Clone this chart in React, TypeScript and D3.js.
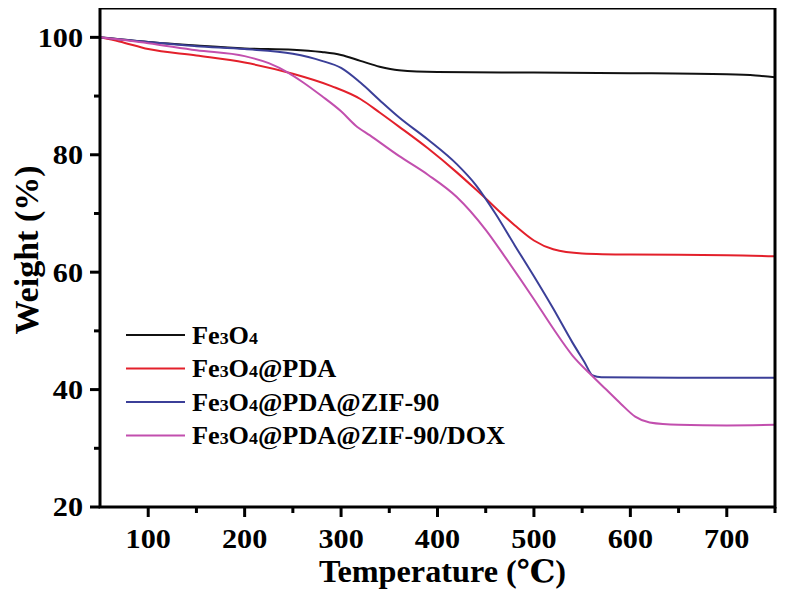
import * as d3 from "d3";

const fe3o4: [number, number][] = [
    [50, 100], [100, 99.2], [150, 98.6], [200, 98.1], [250, 97.9], [280, 97.5], [300, 97.0],
    [320, 96.0], [340, 95.0], [360, 94.4], [400, 94.1], [500, 94.0], [600, 93.9], [700, 93.7],
    [730, 93.5], [750, 93.2],
];
const fe3o4Pda: [number, number][] = [
    [50, 100], [70, 99.3], [100, 98.0], [150, 96.9], [200, 95.7], [250, 93.8], [290, 91.7],
    [320, 89.5], [340, 87.2], [360, 84.8], [390, 81.1], [420, 77.0], [445, 73.3], [480, 68.0],
    [500, 65.4], [520, 63.9], [550, 63.2], [600, 63.0], [700, 62.9], [750, 62.7],
];
const fe3o4PdaZif: [number, number][] = [
    [50, 100], [100, 99.2], [150, 98.5], [200, 98.0], [250, 97.2], [280, 96.0], [300, 94.8],
    [320, 92.3], [340, 89.3], [360, 86.4], [390, 82.6], [420, 78.4], [440, 74.8], [460, 70.0],
    [480, 64.6], [500, 59.3], [520, 53.8], [540, 48.0], [552, 44.8], [561, 42.4], [570, 42.1],
    [650, 42.0], [750, 42.0],
];
const fe3o4PdaZifDox: [number, number][] = [
    [50, 100], [100, 99.0], [150, 97.8], [200, 96.8], [225, 95.6], [245, 94.0], [260, 92.4],
    [280, 90.0], [300, 87.4], [315, 85.0], [330, 83.3], [360, 79.8], [390, 76.6], [420, 72.8],
    [450, 67.2], [470, 62.6], [500, 55.4], [520, 50.4], [540, 45.8], [560, 42.4], [575, 40.0],
    [590, 37.6], [605, 35.4], [620, 34.4], [650, 34.0], [700, 33.9], [750, 34.0],
];

const seriesNames = ["Fe3O4", "Fe3O4@PDA", "Fe3O4@PDA@ZIF-90", "Fe3O4@PDA@ZIF-90/DOX"];
const seriesColors = ["#111111", "#e3202b", "#3b3f98", "#c24fae"];
const seriesData = [fe3o4, fe3o4Pda, fe3o4PdaZif, fe3o4PdaZifDox];

const xTicks = [100, 200, 300, 400, 500, 600, 700];
const xMinor = [150, 250, 350, 450, 550, 650, 750];
const yTicks = [20, 40, 60, 80, 100];
const yMinor = [30, 50, 70, 90];

// splits "Fe3O4..." so the digits can be drawn smaller
function Label({ text }: { text: string }) {
    const rest = text.slice(5);
    return (
        <>
            <tspan>Fe</tspan>
            <tspan fontSize="17">3</tspan>
            <tspan>O</tspan>
            <tspan fontSize="17">4</tspan>
            <tspan>{rest}</tspan>
        </>
    );
}

export default function App() {
    const width = 800;
    const height = 595;
    const marginLeft = 100;
    const marginRight = 25;
    const marginTop = 8;
    const marginBottom = 88;
    const x = d3.scaleLinear([50, 750], [marginLeft, width - marginRight]);
    const y = d3.scaleLinear([20, 105], [height - marginBottom, marginTop]);
    const line = d3.line<[number, number]>((d) => x(d[0]), (d) => y(d[1])).curve(d3.curveMonotoneX);
    const bottom = height - marginBottom;
    const sx = 1.12; // the reference type is a little wide

    return (
        <div style={{ margin: -8 }}>
            <svg width={width} height={height} style={{ fontFamily: "Liberation Serif, Times New Roman, DejaVu Serif, serif", fontWeight: 700 }}>
                <rect width={width} height={height} fill="white" />
                <g fill="none" strokeWidth="2">
                    {seriesData.map((d, i) => (
                        <path key={i} d={line(d) ?? ""} stroke={seriesColors[i]} />
                    ))}
                </g>
                <rect x={marginLeft} y={marginTop} width={width - marginLeft - marginRight}
                    height={bottom - marginTop} fill="none" stroke="black" strokeWidth="3" />
                <g stroke="black" strokeWidth="3">
                    {xTicks.map((t) => (<line key={t} x1={x(t)} x2={x(t)} y1={bottom} y2={bottom + 10} />))}
                    {xMinor.map((t) => (<line key={t} x1={x(t)} x2={x(t)} y1={bottom} y2={bottom + 6} />))}
                    {yTicks.map((t) => (<line key={t} x1={marginLeft} x2={marginLeft - 10} y1={y(t)} y2={y(t)} />))}
                    {yMinor.map((t) => (<line key={t} x1={marginLeft} x2={marginLeft - 6} y1={y(t)} y2={y(t)} />))}
                </g>
                <g fontSize="27" textAnchor="middle">
                    {xTicks.map((t) => (
                        <text key={t} transform={`translate(${x(t)},${bottom + 41}) scale(${sx},1)`}>{t}</text>
                    ))}
                </g>
                <g fontSize="27" textAnchor="end">
                    {yTicks.map((t) => (
                        <text key={t} transform={`translate(${marginLeft - 17},${y(t)}) scale(${sx},1)`} dy="0.35em">{t}</text>
                    ))}
                </g>
                <text transform={`translate(${(marginLeft + width - marginRight) / 2 + 5},582) scale(1.04,1)`} fontSize="31" textAnchor="middle">
                    Temperature (℃)
                </text>
                <text transform={`translate(38,250) rotate(-90)`} fontSize="34" textAnchor="middle">
                    Weight (%)
                </text>
                <g fontSize="25">
                    {seriesNames.map((name, i) => (
                        <g key={name} transform={`translate(126,${335 + i * 33.5})`}>
                            <line x1={0} x2={59} stroke={seriesColors[i]} strokeWidth="2" />
                            <text transform="translate(66,0) scale(1.05,1)" dy="0.35em"><Label text={name} /></text>
                        </g>
                    ))}
                </g>
            </svg>
        </div>
    );
}
